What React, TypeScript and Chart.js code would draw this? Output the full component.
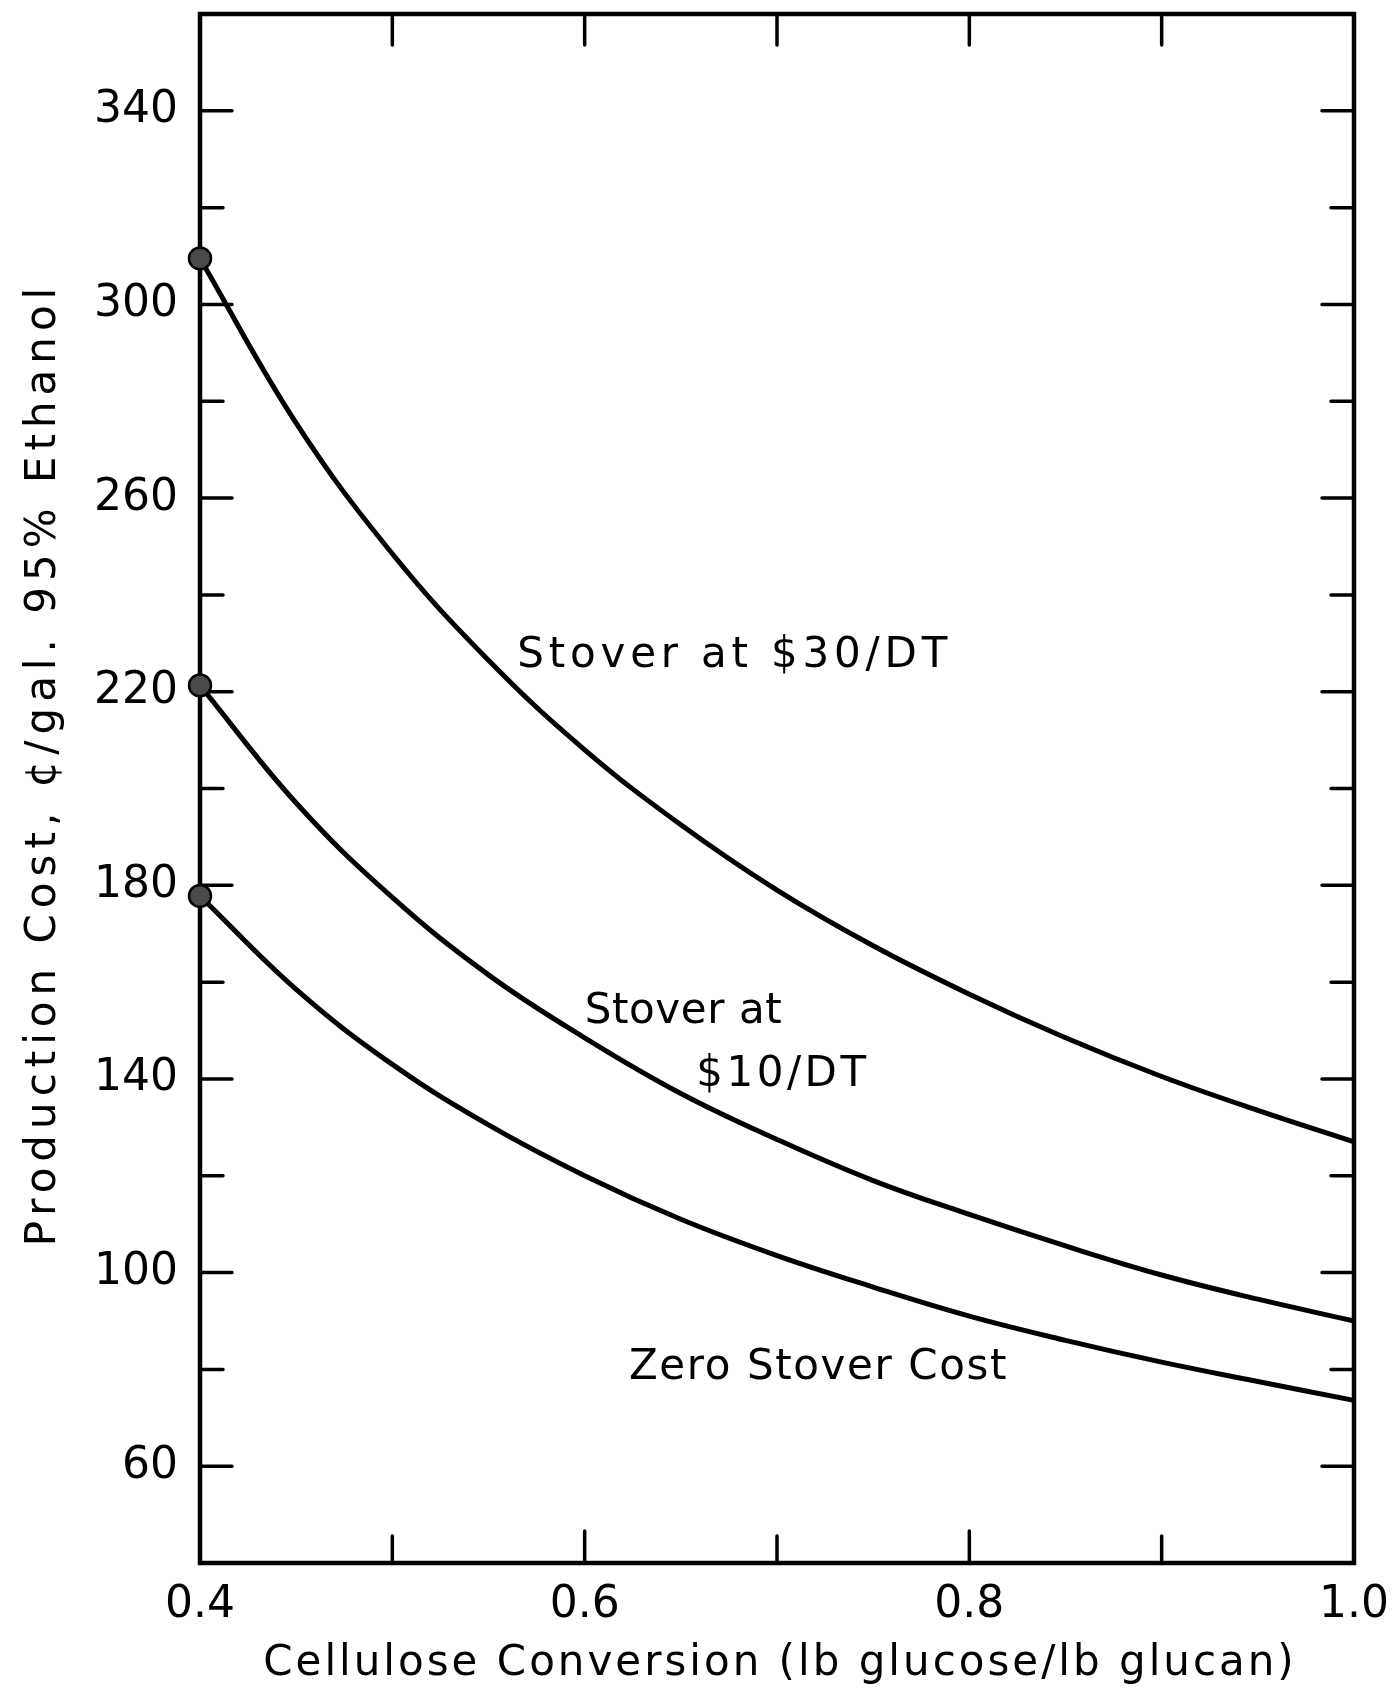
import React, { useEffect, useRef } from 'react';
import { Chart, registerables } from 'chart.js';

Chart.register(...registerables);

// Cellulose conversion (lb glucose / lb glucan)
const conversion = [0.4, 0.45, 0.5, 0.55, 0.6, 0.65, 0.7, 0.75, 0.8, 0.85, 0.9, 0.95, 1.0];
// Production cost, cents/gal 95% ethanol
const stover30 = [309.5, 275.5, 248.5, 226.5, 208, 192.5, 179, 167.5, 157.5, 148.5, 140.5, 133.5, 127];
const stover10 = [221.3, 197, 177.5, 161.5, 148.5, 137, 127.5, 119, 112, 105.5, 99.5, 94.5, 90];
const zeroStover = [177.8, 158.5, 143, 130.5, 120, 111, 103.5, 97, 91, 86, 81.5, 77.5, 73.6];

// tick marks and labels
const yTickValues = [60, 80, 100, 120, 140, 160, 180, 200, 220, 240, 260, 280, 300, 320, 340];
const yLabelValues = [60, 100, 140, 180, 220, 260, 300, 340];
const xTickValues = [0.5, 0.6, 0.7, 0.8, 0.9];
const xLabelValues = [0.4, 0.6, 0.8, 1.0];
const xLabelTexts = ['0.4', '0.6', '0.8', '1.0'];

const xTitle = 'Cellulose Conversion (lb glucose/lb glucan)';
const yTitle = 'Production Cost, \u00a2/gal. 95% Ethanol';

const FONT = '"DejaVu Sans", sans-serif';

const annotations = [
  { text: 'Stover at $30/DT', x: 0.565, y: 227.4, spacing: 4.8 },
  { text: 'Stover at', x: 0.6, y: 153.9, spacing: 0.6 },
  { text: '$10/DT', x: 0.658, y: 140.7, spacing: 3.5 },
  { text: 'Zero Stover Cost', x: 0.623, y: 80.2, spacing: 1.6 },
];

const toPoints = (ys: number[]) => conversion.map((x, i) => ({ x, y: ys[i] }));

const near = (a: number, b: number) => Math.abs(a - b) < 1e-6;

const framePlugin = {
  id: 'frameTicks',
  beforeDatasetsDraw(chart: any) {
    const { ctx, chartArea: a, scales } = chart;
    const xs = scales.x;
    const ys = scales.y;
    ctx.save();
    ctx.strokeStyle = '#000';
    ctx.lineWidth = 4.5;
    ctx.lineCap = 'round';
    ctx.strokeRect(a.left, a.top, a.right - a.left, a.bottom - a.top);
    ctx.lineWidth = 3.5;
    yTickValues.forEach((v) => {
      const p = ys.getPixelForValue(v);
      const len = yLabelValues.some((l) => near(l, v)) ? 32 : 23;
      ctx.beginPath();
      ctx.moveTo(a.left, p);
      ctx.lineTo(a.left + len, p);
      ctx.moveTo(a.right, p);
      ctx.lineTo(a.right - len, p);
      ctx.stroke();
    });
    xTickValues.forEach((v) => {
      const p = xs.getPixelForValue(v);
      const len = xLabelValues.some((l) => near(l, v)) ? 32 : 27;
      ctx.beginPath();
      ctx.moveTo(p, a.bottom);
      ctx.lineTo(p, a.bottom - len);
      ctx.moveTo(p, a.top);
      ctx.lineTo(p, a.top + 31);
      ctx.stroke();
    });
    ctx.restore();
  },
  afterDraw(chart: any) {
    const { ctx, scales } = chart;
    ctx.save();
    ctx.fillStyle = '#000';
    ctx.font = `42px ${FONT}`;
    ctx.textBaseline = 'middle';
    ctx.textAlign = 'left';
    annotations.forEach((an) => {
      (ctx as any).letterSpacing = `${an.spacing}px`;
      ctx.fillText(an.text, scales.x.getPixelForValue(an.x), scales.y.getPixelForValue(an.y));
    });
    // axis titles
    ctx.textAlign = 'center';
    (ctx as any).letterSpacing = '3px';
    ctx.fillText(xTitle, 780, 1664);
    ctx.save();
    ctx.translate(44, 764);
    ctx.rotate(-Math.PI / 2);
    (ctx as any).letterSpacing = '6px';
    ctx.fillText(yTitle, 0, 0);
    ctx.restore();
    ctx.restore();
  },
};

export default function App() {
  const ref = useRef<HTMLCanvasElement | null>(null);
  useEffect(() => {
    if (!ref.current) return;
    const lineStyle = {
      borderColor: '#000',
      borderWidth: 5,
      tension: 0.4,
      pointRadius: (c: any) => (c.dataIndex === 0 ? 11 : 0),
      pointHoverRadius: 0,
      pointBackgroundColor: '#4a4a4a',
      pointBorderColor: '#000',
      pointBorderWidth: 2.5,
      clip: false as any,
      fill: false,
    };
    const hiddenTickGrid = (len: number) => ({
      display: true,
      drawOnChartArea: false,
      drawTicks: true,
      tickLength: len,
      color: 'rgba(0,0,0,0)',
    });
    const chart = new Chart(ref.current, {
      type: 'line',
      data: {
        datasets: [
          { label: 'Stover at $30/DT', data: toPoints(stover30), ...lineStyle },
          { label: 'Stover at $10/DT', data: toPoints(stover10), ...lineStyle },
          { label: 'Zero Stover Cost', data: toPoints(zeroStover), ...lineStyle },
        ],
      },
      options: {
        animation: false,
        responsive: false,
        devicePixelRatio: 1,
        events: [],
        layout: { padding: { top: 14, right: 38, left: 0, bottom: 0 } },
        plugins: { legend: { display: false }, tooltip: { enabled: false } },
        scales: {
          x: {
            type: 'linear',
            min: 0.4,
            max: 1.0,
            grid: hiddenTickGrid(16),
            border: { display: false },
            ticks: {
              stepSize: 0.1,
              autoSkip: false,
              maxRotation: 0,
              padding: 0,
              color: '#000',
              font: { family: FONT, size: 44 },
              callback: (v: any) => {
                const i = xLabelValues.findIndex((l) => near(l, Number(v)));
                return i >= 0 ? xLabelTexts[i] : null;
              },
            },
            title: { display: false },
            afterFit: (s: any) => {
              s.height = 132;
              s.paddingLeft = 0;
              s.paddingRight = 0;
            },
          },
          y: {
            min: 40,
            max: 360,
            grid: hiddenTickGrid(22),
            border: { display: false },
            ticks: {
              stepSize: 20,
              autoSkip: false,
              padding: 0,
              color: '#000',
              font: { family: FONT, size: 44 },
              callback: (v: any) => (yLabelValues.some((l) => near(l, Number(v))) ? String(v) : null),
            },
            title: { display: false },
            afterFit: (s: any) => {
              s.width = 200;
              s.paddingTop = 0;
              s.paddingBottom = 0;
            },
          },
        },
      },
      plugins: [framePlugin],
    });
    return () => chart.destroy();
  }, []);
  return (
    <div style={{ position: 'absolute', left: 0, top: 0, width: 1392, height: 1695, background: '#fff' }}>
      <canvas ref={ref} width={1392} height={1695} style={{ display: 'block', width: 1392, height: 1695 }} />
    </div>
  );
}
